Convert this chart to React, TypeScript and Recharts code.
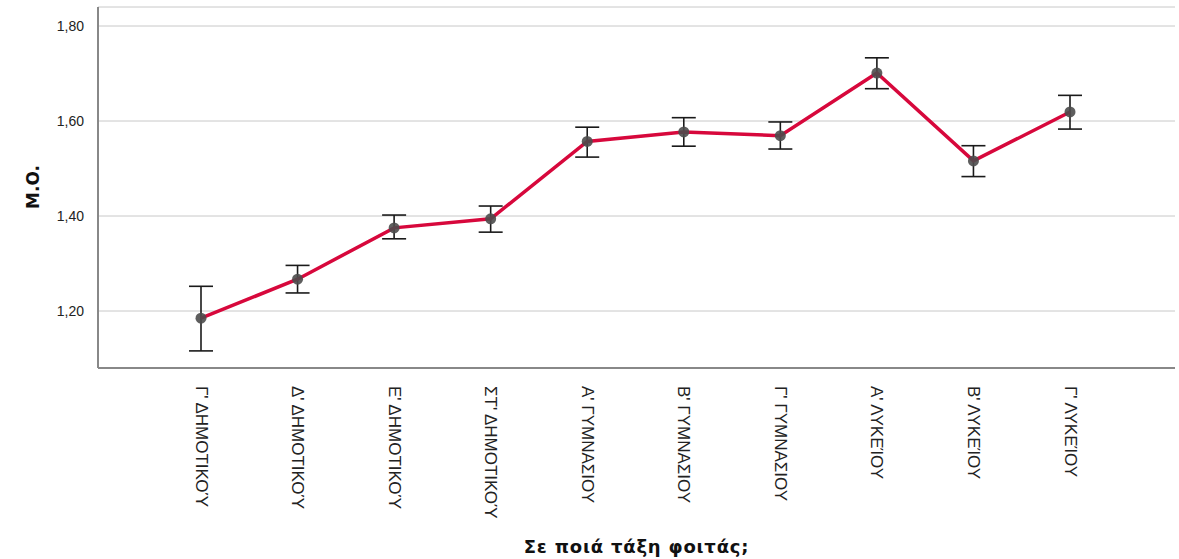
import React from 'react';
import { LineChart, Line, XAxis, YAxis, CartesianGrid, ErrorBar } from 'recharts';

const categories = [
  "Γ' ΔΗΜΟΤΙΚΟΎ",
  "Δ' ΔΗΜΟΤΙΚΟΎ",
  "Ε' ΔΗΜΟΤΙΚΟΎ",
  "ΣΤ' ΔΗΜΟΤΙΚΟΎ",
  "Α' ΓΥΜΝΑΣΙΟΥ",
  "Β' ΓΥΜΝΑΣΙΟΥ",
  "Γ' ΓΥΜΝΑΣΙΟΥ",
  "Α' ΛΥΚΕΊΟΥ",
  "Β' ΛΥΚΕΊΟΥ",
  "Γ' ΛΥΚΕΊΟΥ",
];
const means = [1.185, 1.267, 1.375, 1.394, 1.557, 1.577, 1.569, 1.701, 1.516, 1.619];
const ciLow = [1.116, 1.238, 1.352, 1.366, 1.524, 1.547, 1.541, 1.668, 1.483, 1.583];
const ciHigh = [1.252, 1.296, 1.402, 1.421, 1.587, 1.607, 1.598, 1.733, 1.548, 1.654];
const yTicks = [1.2, 1.4, 1.6, 1.8];

const data = categories.map((c, i) => ({
  name: c,
  mean: means[i],
  err: [means[i] - ciLow[i], ciHigh[i] - means[i]],
}));

const FONT = '"Liberation Sans", Arial, sans-serif';
const BOLD_FONT = '"DejaVu Sans", Verdana, sans-serif';

const XTick = (props: any) => {
  const { x, y, payload } = props;
  return (
    <text
      transform={`translate(${x},${y + 10}) rotate(90)`}
      textAnchor="start"
      dominantBaseline="central"
      fontFamily={FONT}
      fontSize={17}
      fill="#222"
    >
      {payload.value}
    </text>
  );
};

const YTick = (props: any) => {
  const { x, y, payload } = props;
  return (
    <text x={x - 6} y={y} textAnchor="end" dominantBaseline="central" fontFamily={FONT} fontSize={14} fill="#222">
      {payload.value.toFixed(2).replace('.', ',')}
    </text>
  );
};

const XLabel = (props: any) => {
  const { viewBox } = props;
  const cx = viewBox.x + viewBox.width / 2;
  return (
    <text x={cx} y={553} textAnchor="middle" fontFamily={BOLD_FONT} fontSize={18} letterSpacing={0.8} fontWeight="bold" fill="#111">
      Σε ποιά τάξη φοιτάς;
    </text>
  );
};

const YLabel = () => {
  return (
    <text
      transform="translate(39,187) rotate(-90)"
      textAnchor="middle"
      fontFamily={BOLD_FONT}
      fontSize={17}
      fontWeight="bold"
      fill="#111"
    >
      M.O.
    </text>
  );
};

export default function App() {
  return (
    <div style={{ position: 'absolute', left: 0, top: 0, background: '#fff' }}>
      <LineChart width={1179} height={559} data={data} margin={{ top: 7, right: 4, left: 0, bottom: 0 }}>
        <CartesianGrid vertical={false} stroke="#c8c8c8" strokeWidth={1} />
        <XAxis
          dataKey="name"
          height={191}
          padding={{ left: 103, right: 105 }}
          tickLine={false}
          axisLine={{ stroke: '#888', strokeWidth: 2 }}
          tick={<XTick />}
          interval={0}
          label={<XLabel />}
        />
        <YAxis
          width={98}
          domain={[1.08, 1.84]}
          ticks={yTicks}
          type="number"
          allowDataOverflow
          tickLine={false}
          axisLine={{ stroke: '#888', strokeWidth: 2 }}
          tick={<YTick />}
          label={<YLabel />}
        />
        <Line
          type="linear"
          dataKey="mean"
          stroke="#d7083c"
          strokeWidth={3.5}
          isAnimationActive={false}
          dot={{ r: 5.5, fill: '#4d4d4d', stroke: 'none', fillOpacity: 0.9 }}
          activeDot={false}
        >
          <ErrorBar dataKey="err" direction="y" width={12} stroke="#1a1a1a" strokeWidth={1.6} isAnimationActive={false} />
        </Line>
      </LineChart>
    </div>
  );
}
